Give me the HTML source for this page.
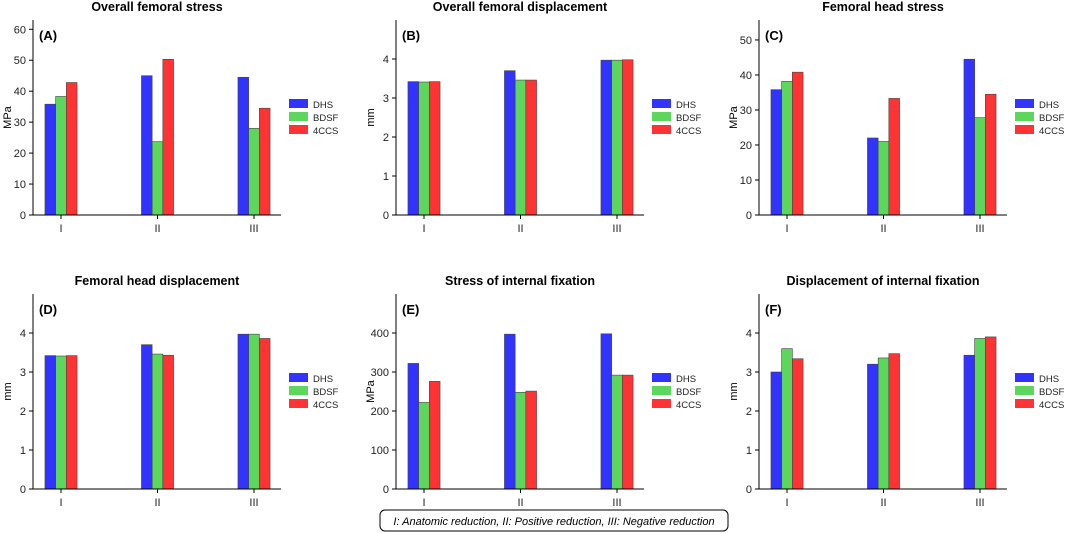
<!DOCTYPE html>
<html><head><meta charset="utf-8"><style>
body{margin:0;background:#fff;width:1065px;height:533px;overflow:hidden}
svg{display:block;font-family:"Liberation Sans",sans-serif}
</style></head><body>
<svg id="c" width="1065" height="533"></svg>
<script>
const categories=["I","II","III"];
const seriesNames=["DHS","BDSF","4CCS"];
const titles=["Overall femoral stress","Overall femoral displacement","Femoral head stress","Femoral head displacement","Stress of internal fixation","Displacement of internal fixation"];
const labels=["(A)","(B)","(C)","(D)","(E)","(F)"];
const units=["MPa","mm","MPa","mm","MPa","mm"];
const yMax=[63,5,55.7,5,500,5];
const yTicksA=[0,10,20,30,40,50,60];
const yTicksB=[0,1,2,3,4];
const yTicksC=[0,10,20,30,40,50];
const yTicksD=[0,1,2,3,4];
const yTicksE=[0,100,200,300,400];
const yTicksF=[0,1,2,3,4];
const dhsA=[35.8,45,44.5], bdsfA=[38.3,23.7,28], ccsA=[42.8,50.3,34.5];
const dhsB=[3.42,3.70,3.97], bdsfB=[3.41,3.46,3.97], ccsB=[3.42,3.46,3.98];
const dhsC=[35.8,22,44.5], bdsfC=[38.2,21,27.8], ccsC=[40.8,33.3,34.5];
const dhsD=[3.42,3.70,3.97], bdsfD=[3.41,3.46,3.97], ccsD=[3.42,3.43,3.86];
const dhsE=[322,397,398], bdsfE=[222,248,292], ccsE=[276,251,292];
const dhsF=[3.0,3.2,3.43], bdsfF=[3.6,3.36,3.86], ccsF=[3.34,3.47,3.9];
const panels=[[dhsA,bdsfA,ccsA],[dhsB,bdsfB,ccsB],[dhsC,bdsfC,ccsC],[dhsD,bdsfD,ccsD],[dhsE,bdsfE,ccsE],[dhsF,bdsfF,ccsF]];
const ticks=[yTicksA,yTicksB,yTicksC,yTicksD,yTicksE,yTicksF];
const colors=["#3333ff","#5cd65c","#ff3333"];
const svg=document.getElementById('c');
const NS="http://www.w3.org/2000/svg";
function mk(tag,attrs,parent,text){const e=document.createElementNS(NS,tag);for(const k in attrs)e.setAttribute(k,attrs[k]);if(text!==undefined)e.textContent=text;parent.appendChild(e);return e;}
panels.forEach((p,i)=>{
  const ox=363*(i%3), oy=274*Math.floor(i/3);
  const L=33+ox,R=281+ox,T=20+oy,B=215+oy;
  const g=mk('g',{},svg);
  
  
  const y=v=>B-(v/yMax[i])*(B-T);
  const x=c=>L+28+c*96.5;
  const bw=10.7;
  p.forEach((ser,s)=>{ser.forEach((v,c)=>{
    const r=mk('rect',{x:x(c)+(s-1.5)*bw,y:y(v),width:bw,height:B-y(v),fill:colors[s],stroke:'#444','stroke-width':0.6},g);
    
    
  });});
  mk('line',{x1:L,y1:T,x2:L,y2:B,stroke:'#000','stroke-width':1},g);
  mk('line',{x1:L,y1:B,x2:R,y2:B,stroke:'#000','stroke-width':1},g);
  ticks[i].forEach(t=>{
    mk('line',{x1:L-4,y1:y(t),x2:L,y2:y(t),stroke:'#000'},g);
    const tl=mk('text',{x:L-7,y:y(t)+4,'font-size':11,'text-anchor':'end',fill:'#222'},g,String(t));
    
    
  });
  categories.forEach((c,k)=>{
    mk('line',{x1:x(k),y1:B,x2:x(k),y2:B+4,stroke:'#000'},g);
    const tl=mk('text',{x:x(k),y:B+17,'font-size':11,'text-anchor':'middle',fill:'#222'},g,c);
    
    
  });
  const ti=mk('text',{x:(L+R)/2,y:oy+11,'font-size':12.5,'font-weight':'bold','text-anchor':'middle'},g,titles[i]);
  
  
  const pl=mk('text',{x:L+6,y:T+20,'font-size':13,'font-weight':'bold'},g,labels[i]);
  
  
  const yl=mk('text',{x:0,y:0,'font-size':11,'text-anchor':'middle',transform:`translate(${ox+11},${(T+B)/2}) rotate(-90)`},g,units[i]);
  
  
  seriesNames.forEach((n,s)=>{
    const ly=oy+104+s*13;
    const lg=mk('g',{},g);
    
    
    mk('rect',{x:289+ox,y:ly-5,width:19,height:9,fill:colors[s]},lg);
    mk('text',{x:313+ox,y:ly+4,'font-size':9.5,fill:'#222'},lg,n);
  });
});
const fb=mk('g',{},svg);


mk('rect',{x:380,y:510,width:348,height:21,rx:5,fill:'#fff',stroke:'#000','stroke-width':1},fb);
mk('text',{x:554,y:525,'font-size':11,'font-style':'italic','text-anchor':'middle'},fb,'I: Anatomic reduction, II: Positive reduction, III: Negative reduction');
</script>
</body></html>
